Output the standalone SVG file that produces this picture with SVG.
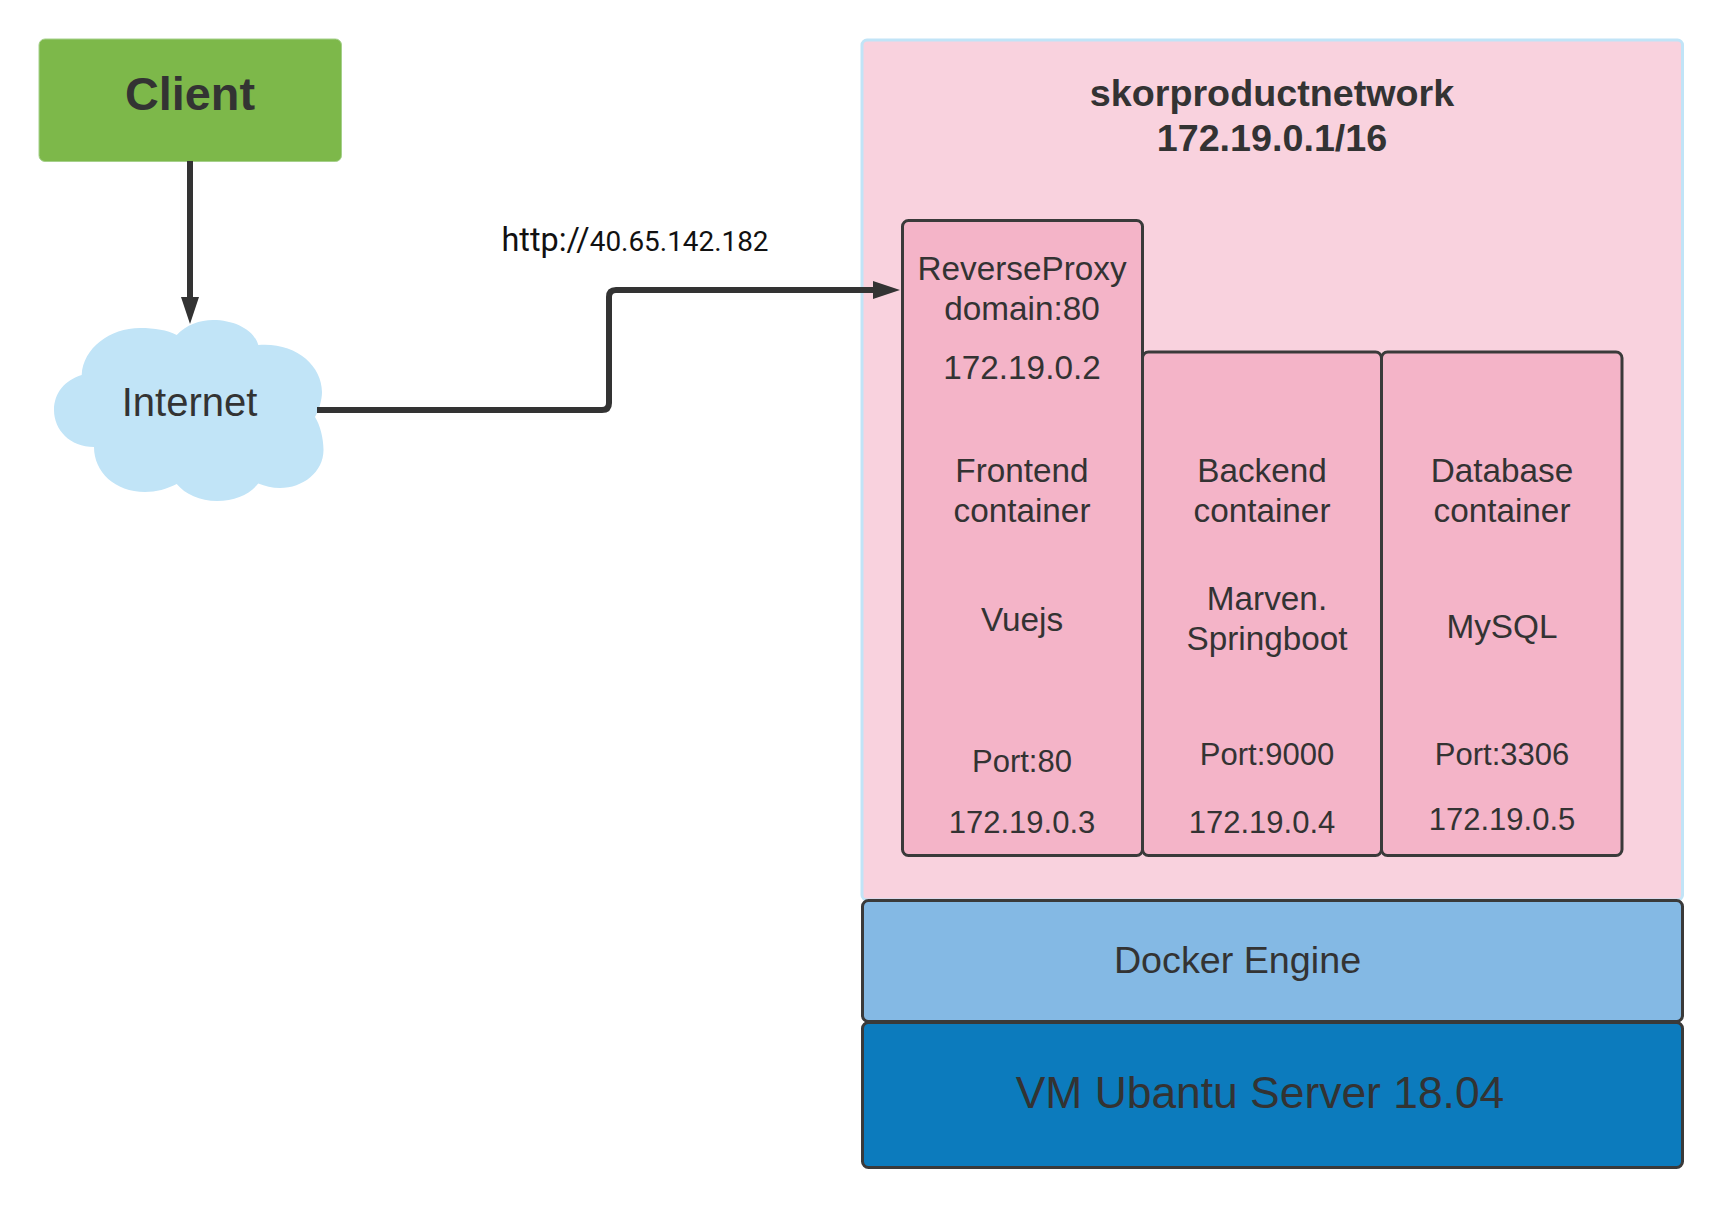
<svg xmlns="http://www.w3.org/2000/svg" width="1722" height="1215" viewBox="0 0 1722 1215">
<style>
text{font-family:"Liberation Sans",Arial,sans-serif;fill:#333;text-anchor:middle}
.b{font-weight:700}
.m{font-size:33.300px}
.s{font-size:31px}
.box{stroke:#3a3a3a;stroke-width:3}
.ctn{fill:#f4b4c8}
.conn{fill:none;stroke:#333;stroke-width:6;stroke-linejoin:round}
</style>
<defs>
<marker id="arrow" markerUnits="userSpaceOnUse" markerWidth="28" markerHeight="18" refX="6" refY="9" orient="auto"><path d="M0 0L27 9L0 18Z" fill="#333"/></marker>
</defs>
<rect width="1722" height="1215" fill="#fff"/>
<g id="client"><rect x="39" y="39" width="302.500" height="122.500" rx="6" fill="#7db84a" stroke="#a5d08a" stroke-width="1"/><text x="190" y="110" class="b" font-size="46.800">Client</text></g>
<g id="internet"><path d="M176.700 335C186 325 200 320 213 320C235 320 254 330 258.300 345C295 342 322 365 322 392C322 400 319 410 315 417C320 425 323.500 438 323.500 450C323.500 472 303 488 280 488C272 488 265 486 258.300 483.500C250 494 235 501 217 501C200 501 185 494 176.700 484C167 489 156 492 145 492C115 492 94 472 94 447C70 447 54 430 54 410C54 393 65 380 81.700 375C83 348 110 328 140 328C155 328 167 330 176.700 335Z" fill="#c1e4f7"/><text x="189.500" y="416" font-size="40">Internet</text></g>
<g id="network"><rect x="862" y="40" width="820.500" height="860" rx="5" fill="#f9d2de" stroke="#c1e4f7" stroke-width="3"/><text x="1272" y="106" class="b" font-size="37.700">skorproductnetwork</text><text x="1272" y="150.500" class="b" font-size="37.700">172.19.0.1/16</text></g>
<g id="frontend"><rect x="902.500" y="220.500" width="240" height="635" rx="6" class="box ctn"/>
<text x="1022" y="280" class="m">ReverseProxy</text><text x="1022" y="320" class="m">domain:80</text><text x="1022" y="379" class="m">172.19.0.2</text><text x="1022" y="482" class="m">Frontend</text><text x="1022" y="522" class="m">container</text><text x="1022" y="631" class="m">Vuejs</text><text x="1022" y="772" class="s">Port:80</text><text x="1022" y="833" class="s">172.19.0.3</text></g>
<g id="backend"><rect x="1142.500" y="352" width="239" height="503.500" rx="6" class="box ctn"/>
<text x="1262" y="482" class="m">Backend</text><text x="1262" y="522" class="m">container</text><text x="1267" y="610" class="m">Marven.</text><text x="1267" y="650" class="m">Springboot</text><text x="1267" y="765" class="s">Port:9000</text><text x="1262" y="833" class="s">172.19.0.4</text></g>
<g id="database"><rect x="1381.500" y="352" width="240.500" height="503.500" rx="6" class="box ctn"/>
<text x="1502" y="482" class="m">Database</text><text x="1502" y="522" class="m">container</text><text x="1502" y="638" class="m">MySQL</text><text x="1502" y="765" class="s">Port:3306</text><text x="1502" y="830" class="s">172.19.0.5</text></g>
<g id="docker"><rect x="862.500" y="900.500" width="820" height="121" rx="6" class="box" fill="#84b9e4"/><text x="1237.500" y="973" font-size="37.700">Docker Engine</text></g>
<g id="vm"><rect x="862.500" y="1022.500" width="820" height="145" rx="6" class="box" fill="#0c7bbd"/><text x="1260" y="1108" font-size="44.400">VM Ubantu Server 18.04</text></g>
<g id="connectors">
<path class="conn" d="M190 161V303" marker-end="url(#arrow)"/>
<path class="conn" d="M317 410H602Q609 410 609 403V297Q609 290 616 290H879" marker-end="url(#arrow)"/>
</g>
<text x="635" y="250.500" style="font-family:Roboto,sans-serif;fill:#111"><tspan font-size="32.400">http://</tspan><tspan font-size="27.900">40.65.142.182</tspan></text>
</svg>
